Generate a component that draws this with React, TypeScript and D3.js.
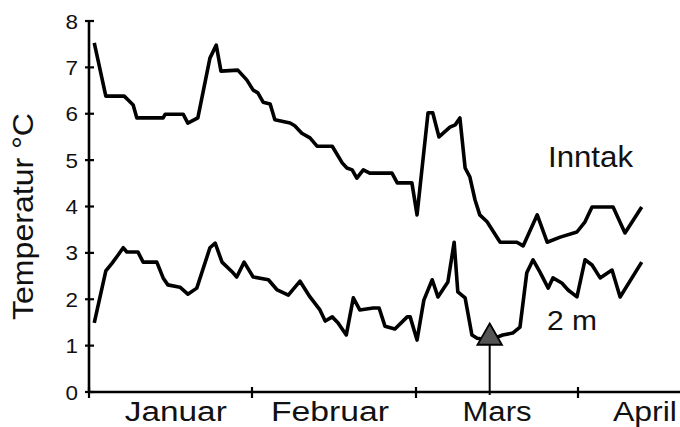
import React from "react";
import * as d3 from "d3";

// Day index from 1 January, temperature in °C
const inntakDays = [1.0, 3.2, 6.7, 7.4, 8.4, 9.1, 14.1, 14.5, 17.9, 18.8, 20.7, 23.0, 24.2, 25.1, 28.3, 30.0,
  31.2, 32.0, 32.9, 34.1, 34.9, 37.5, 38.3, 39.5, 40.9, 42.1, 44.7, 46.4, 47.2, 48.1, 48.9, 50.0, 51.1, 54.9, 55.8, 58.3,
  59.2, 61.3, 62.2, 63.4, 65.5, 66.5, 67.4, 68.4, 69.3, 70.3, 71.2, 72.6, 75.1, 78.3, 79.5, 82.2, 84.1, 86.6, 89.8,
  91.3, 92.6, 96.5, 98.7, 101.8];
const inntakTemps = [7.53, 6.38, 6.38, 6.30, 6.19, 5.91, 5.91, 5.99, 5.99, 5.80, 5.91, 7.20, 7.48, 6.92, 6.94, 6.73,
  6.51, 6.45, 6.25, 6.21, 5.87, 5.80, 5.74, 5.58, 5.48, 5.30, 5.30, 4.94, 4.83, 4.79, 4.61, 4.79, 4.72, 4.72, 4.51, 4.51,
  3.82, 6.02, 6.02, 5.50, 5.71, 5.76, 5.91, 4.83, 4.64, 4.14, 3.82, 3.67, 3.23, 3.23, 3.15, 3.82, 3.23, 3.34, 3.45,
  3.67, 3.99, 3.99, 3.43, 3.99];

const twoMDays = [1.0, 3.2, 4.4, 5.5, 6.5, 7.2, 9.3, 10.3, 12.9, 14.1, 15.0, 17.3, 18.8, 20.5, 23.0, 24.0, 25.3, 27.4, 28.1, 29.5,
  31.2, 33.8, 35.3, 37.2, 39.2, 40.9, 42.6, 43.5, 44.7, 45.7, 47.1, 48.3, 49.4, 51.7, 52.7, 53.7, 55.4, 57.5, 58.0,
  59.2, 60.5, 62.1, 63.2, 65.1, 66.3, 67.0, 68.4, 69.7, 70.7, 73.1, 75.6, 77.5, 78.9, 80.2, 81.4, 82.7, 84.3, 85.2, 86.9, 88.1, 89.8,
  91.3, 92.6, 94.1, 96.3, 97.8, 101.8];
const twoMTemps = [1.49, 2.61, 2.78, 2.95, 3.11, 3.02, 3.02, 2.80, 2.80, 2.46, 2.31, 2.26, 2.11, 2.24, 3.11, 3.21, 2.80, 2.57, 2.48, 2.80,
  2.48, 2.42, 2.20, 2.09, 2.39, 2.05, 1.77, 1.53, 1.62, 1.49, 1.23, 2.03, 1.77, 1.81, 1.81, 1.42, 1.36, 1.62, 1.62,
  1.12, 1.98, 2.42, 2.05, 2.37, 3.23, 2.16, 2.03, 1.23, 1.16, 1.12, 1.23, 1.27, 1.40, 2.57, 2.85, 2.59, 2.24, 2.46, 2.35, 2.20, 2.05,
  2.85, 2.74, 2.46, 2.63, 2.05, 2.80];

const monthBoundaries = [0, 31, 59, 90, 120];
const monthTicks = [0, 31, 59, 90];
const monthNames = ["Januar", "Februar", "Mars", "April"];
const monthLabelDays = [16.5, 44.3, 74.5, 102.4];
const yTicks = [0, 1, 2, 3, 4, 5, 6, 7, 8];
const markerDay = 73.1;
const markerTemp = 1.15;
const seriesLabels = ["Inntak", "2 m"];

const W = 680;
const H = 427;
const FONT = "'Liberation Sans', Arial, Helvetica, sans-serif";

export default function App() {
  const x = d3.scaleLinear().domain(monthBoundaries).range([89, 252, 416, 578, 740]);
  const y = d3.scaleLinear().domain([0, 8]).range([392, 21]);

  const line = d3
    .line<[number, number]>()
    .x((d) => x(d[0]))
    .y((d) => y(d[1]));

  const inntak = inntakDays.map((d, i) => [d, inntakTemps[i]] as [number, number]);
  const twoM = twoMDays.map((d, i) => [d, twoMTemps[i]] as [number, number]);

  const mx = x(markerDay);
  const my = y(markerTemp);
  const tri = d3.symbol().type(d3.symbolTriangle).size(260)();

  const monthLens = [102, 118, 69, 64];

  return (
    <svg width={W} height={H} style={{ position: "absolute", left: 0, top: 0, background: "#fff" }}>
      <rect width={W} height={H} fill="#fff" />
      {/* y axis */}
      <line x1={x(0)} x2={x(0)} y1={y(8)} y2={y(0)} stroke="#000" strokeWidth={2.6} />
      {yTicks.map((t) => (
        <g key={t}>
          <line x1={x(0) - 4} x2={x(0) + 5} y1={y(t)} y2={y(t)} stroke="#000" strokeWidth={2.2} />
          <text x={78} y={y(t)} dy="0.36em" textAnchor="end" fontFamily={FONT} fontSize={21} fill="#111"
            textLength={12.5} lengthAdjust="spacingAndGlyphs">
            {t}
          </text>
        </g>
      ))}
      {/* x axis */}
      <line x1={x(0)} x2={W} y1={y(0)} y2={y(0)} stroke="#000" strokeWidth={2.6} />
      {monthTicks.map((t) => (
        <line key={t} x1={x(t)} x2={x(t)} y1={y(0) - 5} y2={y(0) + 6} stroke="#000" strokeWidth={2.2} />
      ))}
      {monthNames.map((m, i) => (
        <text key={m} x={x(monthLabelDays[i])} y={420.5} textAnchor="middle" fontFamily={FONT} fontSize={27}
          fill="#111" textLength={monthLens[i]} lengthAdjust="spacingAndGlyphs">
          {m}
        </text>
      ))}
      {/* y label */}
      <text transform={`translate(33,216.5) rotate(-90)`} textAnchor="middle" fontFamily={FONT} fontSize={29}
        fill="#111" textLength={207} lengthAdjust="spacingAndGlyphs">
        Temperatur °C
      </text>
      {/* series */}
      <path d={line(inntak) || ""} fill="none" stroke="#000" strokeWidth={3.6} strokeLinejoin="round" />
      <path d={line(twoM) || ""} fill="none" stroke="#000" strokeWidth={3.6} strokeLinejoin="round" />
      {/* marker */}
      <line x1={mx} x2={mx} y1={my} y2={y(0) + 3} stroke="#000" strokeWidth={2} />
      <path d={tri || ""} transform={`translate(${mx},${my - 1})`} fill="#555" stroke="#000" strokeWidth={1.8} />
      {/* labels */}
      <text x={548} y={167} fontFamily={FONT} fontSize={30} fill="#111" textLength={85} lengthAdjust="spacingAndGlyphs">
        {seriesLabels[0]}
      </text>
      <text x={547} y={330} fontFamily={FONT} fontSize={28} fill="#111" textLength={50} lengthAdjust="spacingAndGlyphs">
        {seriesLabels[1]}
      </text>
    </svg>
  );
}
